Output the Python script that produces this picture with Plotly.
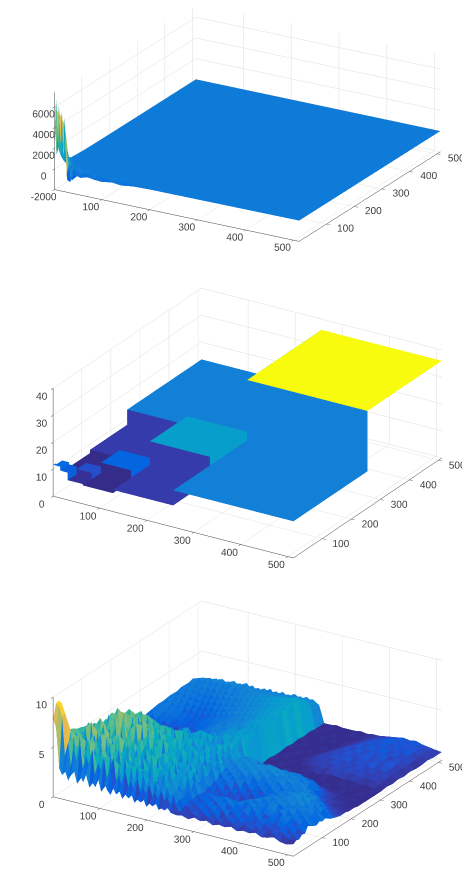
import plotly.graph_objects as go

# --- shared axis ticks
tick_vals = [100, 200, 300, 400, 500]
x_range = [1, 512]

# --- panel 1 values (x nodes, y nodes, heights)
p1_x = [1, 4, 7, 10, 13, 16, 19, 22, 26, 30, 36, 44, 55, 70, 85, 100, 120, 140, 165, 200, 512]
p1_y = [1, 4, 8, 12, 16, 20, 25, 30, 40, 50, 60, 80, 110, 160, 300, 512]
p1_z = [
 [2500, 6900, 3800, 6300, 2600, 5700, 1500, 5200, -300, 600, -500, -200, -350, -150, -250, -300, -150, -250, -100, -50, 0],
 [3400, 5600, 2200, 5300, 1300, 4800, 2400, 3800, -900, 350, -800, 250, -100, 200, -200, 100, -100, 50, -60, 0, 0],
 [1200, 4500, 5400, 1800, 4900, 1100, 4200, 900, 500, -1100, 300, -400, 250, -150, 120, -100, 60, -40, 30, 0, 0],
 [4800, 2100, 3200, 4100, 900, 3500, 500, 1800, -700, 400, -300, 200, -150, 100, -80, 60, -30, 20, 0, 0, 0],
 [1600, 3600, 1100, 2900, 2300, 700, 1600, -400, 300, -200, 350, -100, 80, -60, 40, 0, 0, 0, 0, 0, 0],
 [2700, 900, 2600, 600, 1400, 1100, -300, 500, -200, 250, -100, 120, -50, 30, 0, 0, 0, 0, 0, 0, 0],
 [800, 1900, 400, 1300, 300, 600, 200, -200, 300, -80, 100, -50, 30, 0, 0, 0, 0, 0, 0, 0, 0],
 [1200, 300, 800, 100, 500, -200, 250, 100, -60, 90, -30, 20, 0, 0, 0, 0, 0, 0, 0, 0, 0],
 [300, 600, -100, 300, 80, 150, -60, 60, 30, -20, 10, 0, 0, 0, 0, 0, 0, 0, 0, 0, 0],
 [350, -80, 200, 40, 100, -30, 40, -10, 10, 0, 0, 0, 0, 0, 0, 0, 0, 0, 0, 0, 0],
 [120, 100, -40, 60, -10, 20, 0, 0, 0, 0, 0, 0, 0, 0, 0, 0, 0, 0, 0, 0, 0],
 [80, -20, 40, 0, 10, 0, 0, 0, 0, 0, 0, 0, 0, 0, 0, 0, 0, 0, 0, 0, 0],
 [30, 10, 0, 0, 0, 0, 0, 0, 0, 0, 0, 0, 0, 0, 0, 0, 0, 0, 0, 0, 0],
 [10, 0, 0, 0, 0, 0, 0, 0, 0, 0, 0, 0, 0, 0, 0, 0, 0, 0, 0, 0, 0],
 [0, 0, 0, 0, 0, 0, 0, 0, 0, 0, 0, 0, 0, 0, 0, 0, 0, 0, 0, 0, 0],
 [0, 0, 0, 0, 0, 0, 0, 0, 0, 0, 0, 0, 0, 0, 0, 0, 0, 0, 0, 0, 0],
]

# --- panel 2 values: blocks painted in order
block_x0 = [1, 256, 1, 128, 64, 64, 1, 1, 32, 32, 16, 1, 1]
block_x1 = [512, 512, 256, 256, 128, 128, 64, 64, 64, 64, 32, 16, 16]
block_y0 = [1, 256, 1, 128, 64, 1, 64, 1, 1, 32, 1, 1, 1]
block_y1 = [512, 512, 256, 256, 128, 64, 128, 64, 32, 64, 32, 32, 8]
block_z = [13.6, 36.0, 8.0, 16.8, 10.7, 6.8, 6.8, 7.0, 7.3, 9.2, 10.2, 11.0, 11.6]

# --- panel 3 values, in tenths
p3_x = [1, 7, 14, 20, 27, 33, 39, 46, 52, 59, 65, 71, 78, 84, 91, 97, 103, 110, 116, 123,
        129, 135, 142, 148, 155, 161, 167, 174, 180, 187, 193, 199, 206, 212, 219, 225, 231, 238, 244, 251,
        262, 275, 288, 301, 314, 327, 340, 353, 366, 379, 392, 405, 418, 431, 444, 457, 470, 483, 496, 512]
p3_y = [1, 11, 21, 31, 41, 51, 61, 71, 81, 91, 101, 111, 121, 131, 141, 151, 161, 171, 181, 191, 201, 211, 221, 231, 241, 251,
        262, 282, 302, 322, 342, 362, 382, 402, 422, 442, 462, 482, 512]
p3_z = [
 [78,70,30,24,28,20,26,30,19,27,22,30,18,24,20,28,17,26,20,16,23,18,22,15,20,17,22,14,18,16,20,13,17,15,19,13,15,14,17,13, 12,13,11,14,12,14,11,13,12,14,11,13,12,14,11,12,14,11,10,12],
 [92,90,80,42,56,30,50,36,60,27,47,38,55,25,43,34,50,24,40,52,29,36,22,42,26,33,21,38,24,30,19,34,22,28,18,31,21,26,17,23, 14,12,16,13,18,14,15,12,18,15,13,17,14,15,12,16,14,17,13,14],
 [93,91,82,48,37,60,29,55,41,31,62,34,46,27,52,39,25,49,35,28,43,23,37,30,45,24,34,20,40,27,31,22,36,25,29,19,32,23,27,18, 13,15,14,18,15,20,13,16,15,19,15,14,17,13,15,15,18,14,16,13],
 [64,62,38,63,31,50,60,34,45,56,30,52,38,58,28,43,54,33,26,46,37,50,28,35,22,44,30,38,23,35,42,25,30,21,39,27,32,20,29,21, 16,14,19,15,21,16,22,14,20,16,18,15,21,17,14,20,16,19,14,16],
 [60,58,52,32,56,42,27,54,36,60,40,30,50,35,44,25,48,38,54,28,35,42,25,47,36,23,40,29,36,46,24,33,27,41,22,31,36,24,27,20, 15,18,16,21,14,23,17,20,16,24,18,22,15,20,17,23,19,16,20,15],
 [58,56,36,58,40,29,60,44,27,52,34,62,31,46,55,36,28,50,41,26,52,32,45,26,39,48,22,36,28,43,34,21,38,29,25,34,23,31,25,21, 18,15,20,16,23,19,25,20,17,22,26,20,23,21,18,25,20,24,19,21],
 [56,58,50,30,54,62,33,41,57,28,48,37,58,27,42,51,33,45,25,55,35,29,47,37,25,43,32,50,25,35,39,28,33,44,23,36,29,38,24,27, 16,20,17,23,20,27,21,24,21,28,23,20,26,22,27,21,24,20,26,19],
 [54,56,31,56,36,50,66,29,46,36,59,41,28,54,32,61,38,27,48,42,29,51,33,24,44,34,27,41,47,25,36,30,42,26,34,38,25,31,35,23, 19,16,22,18,24,20,22,17,26,21,25,22,28,20,24,28,22,26,23,17],
 [53,52,45,34,58,28,43,56,31,64,35,48,30,57,38,27,52,34,44,56,25,40,30,49,28,37,45,24,36,30,42,25,33,43,27,35,28,41,23,30, 15,21,16,20,17,22,16,22,19,27,22,26,23,29,25,22,28,24,21,16],
 [52,54,30,60,38,53,34,62,41,29,54,36,63,28,45,35,55,39,27,47,36,30,52,33,42,26,39,30,48,24,37,43,27,34,29,40,25,33,36,27, 18,14,19,15,18,14,18,16,23,19,28,24,28,25,30,26,24,28,22,18],
 [51,49,47,29,54,35,65,31,50,57,33,46,30,60,37,52,29,42,35,54,27,44,34,25,49,31,41,29,35,43,27,34,39,25,37,28,42,27,32,25, 16,17,14,16,13,15,13,18,16,24,22,29,25,30,27,31,25,23,27,16],
 [49,52,33,56,30,62,37,55,28,48,62,32,51,41,27,58,36,45,31,50,38,28,44,33,48,24,36,41,28,46,32,25,38,30,26,40,28,35,29,32, 20,15,18,14,16,13,15,13,19,16,26,23,28,24,33,27,29,22,20,17],
 [48,50,42,27,52,44,30,60,40,66,31,54,36,28,56,39,63,30,48,34,55,30,41,50,27,37,31,45,25,39,34,43,27,33,37,24,35,29,40,27, 16,21,15,19,15,17,13,18,15,23,19,27,24,30,27,33,24,27,19,15],
 [47,45,29,54,37,28,63,34,58,30,50,66,33,44,28,54,35,60,31,41,27,47,36,29,52,33,26,42,35,29,47,30,39,27,41,31,28,37,33,25, 22,18,24,16,20,15,19,15,21,18,26,21,29,23,32,26,28,20,22,13],
 [46,48,37,50,26,58,39,30,66,35,55,41,28,59,45,33,52,29,56,37,43,31,49,28,39,44,29,36,46,26,34,40,29,36,31,42,26,32,28,34, 18,25,20,26,17,22,18,23,19,26,20,27,22,29,25,30,22,23,15,12],
 [45,47,28,52,32,60,48,36,54,63,30,46,58,32,41,62,28,50,37,45,30,53,33,41,28,48,37,25,43,31,38,27,44,30,36,26,39,28,36,27, 26,21,27,23,25,20,24,21,26,22,28,24,28,26,29,23,26,17,14,11],
 [43,45,41,28,50,32,57,27,45,60,35,49,30,62,34,44,54,37,27,52,39,30,46,35,26,41,49,31,37,28,44,33,26,39,31,42,28,34,26,35, 23,28,24,30,26,29,23,27,24,30,25,28,26,29,23,25,19,15,12,10],
 [42,40,29,49,34,61,30,54,39,32,56,43,51,28,47,36,59,31,42,29,49,34,44,26,37,31,42,29,47,35,27,39,31,28,41,29,36,30,42,28, 29,25,31,27,32,26,30,25,28,26,31,28,30,24,26,20,15,12,11,10],
 [41,43,35,26,46,37,53,33,60,30,49,38,58,35,30,53,40,28,51,33,44,27,39,50,31,36,27,44,31,29,39,34,29,43,27,36,31,40,28,30, 26,32,28,33,29,31,27,32,28,30,25,29,24,28,22,17,13,11,10,10],
 [40,42,28,46,30,50,31,58,37,54,29,46,33,56,39,47,29,44,36,50,30,40,32,48,27,42,34,30,44,37,27,36,42,29,38,28,44,31,35,29, 32,28,34,29,32,29,33,28,30,25,28,23,26,20,16,13,10,10,9,9],
 [39,37,40,28,44,33,51,30,47,36,56,31,45,34,50,30,41,37,47,32,43,29,36,31,46,27,40,33,29,42,34,30,37,28,40,31,27,42,33,37, 28,33,27,31,26,32,29,31,25,29,24,28,21,18,14,12,10,9,9,9],
 [37,39,30,42,27,47,35,43,31,51,33,43,30,48,35,44,31,39,29,43,33,38,27,42,32,29,40,35,31,27,41,33,30,39,34,28,38,32,43,35, 30,26,32,25,29,25,31,27,28,25,26,21,24,17,13,11,10,9,8,9],
 [35,37,32,27,40,30,44,29,41,33,45,29,39,35,42,28,37,31,41,29,37,32,42,28,35,38,28,33,41,30,36,28,40,32,27,38,33,29,40,41, 26,31,25,30,24,29,25,26,24,27,22,25,20,15,12,10,9,9,8,8],
 [33,35,28,37,26,40,31,38,27,42,30,36,29,39,32,35,27,39,30,33,28,38,31,36,27,40,31,28,35,42,29,37,30,27,41,34,29,40,36,31, 24,29,24,26,22,25,21,25,22,24,20,21,16,13,11,9,9,8,8,8],
 [31,30,32,25,35,27,38,29,34,27,39,29,34,30,36,26,37,29,32,27,39,30,35,27,37,30,41,29,34,28,38,32,28,39,31,35,27,41,33,43, 21,25,20,23,19,22,18,21,19,22,18,19,14,11,10,9,8,9,8,8],
 [29,27,25,30,22,32,24,33,26,29,24,33,26,31,28,33,26,29,35,27,32,38,28,35,30,39,32,37,29,40,33,36,31,41,35,30,40,34,39,40, 13,16,12,15,12,14,11,13,11,14,11,12,10,9,9,8,8,8,8,8],
 [21,24,19,23,17,21,15,19,14,18,14,17,13,16,15,19,15,20,18,23,20,26,22,28,25,30,26,32,28,33,30,28,35,31,37,33,39,35,40,37, 9,8,9,8,8,9,8,8,9,8,8,9,8,8,9,8,8,9,8,8],
 [22,20,24,18,21,16,19,15,18,14,16,13,15,12,16,14,18,15,21,18,23,21,25,24,28,26,31,28,33,30,35,29,36,32,38,34,36,32,39,36, 8,9,8,8,9,8,8,9,8,8,9,8,8,9,8,9,8,8,9,8],
 [21,23,19,22,18,20,15,18,14,17,13,16,12,15,14,17,15,19,17,22,19,25,22,27,24,29,26,28,30,32,34,28,33,31,37,32,38,34,36,39, 8,8,9,8,8,8,9,10,11,10,12,13,12,11,12,11,10,11,9,8],
 [23,21,25,20,22,18,21,16,18,15,18,14,17,13,17,15,20,17,19,23,21,26,23,29,25,28,30,26,32,29,31,33,30,36,32,38,34,39,36,41, 9,8,8,9,8,10,11,12,13,12,14,13,14,13,14,12,13,12,10,9],
 [24,22,26,21,24,19,23,18,21,16,19,15,18,14,19,16,21,18,22,20,24,22,26,23,28,26,29,30,27,32,30,34,31,37,33,39,35,40,37,41, 8,9,8,8,9,10,12,13,12,15,13,14,13,15,13,14,12,13,10,8],
 [25,23,27,22,25,21,24,18,22,17,21,17,20,16,20,17,22,19,24,21,25,22,27,25,29,27,30,28,32,30,33,31,36,33,38,35,40,37,42,39, 8,8,9,8,8,11,13,12,15,14,16,13,15,14,16,13,15,12,11,9],
 [25,27,23,26,22,25,20,24,19,23,18,21,17,22,19,23,20,25,22,26,23,28,25,30,26,31,28,33,30,35,31,36,33,39,35,40,37,41,39,44, 9,8,8,9,8,9,11,14,13,16,14,15,16,14,15,14,16,12,10,8],
 [26,24,27,23,26,21,25,20,24,19,23,19,24,20,25,21,25,23,27,24,28,26,30,27,31,29,32,31,33,32,35,33,37,35,39,36,40,38,43,40, 8,9,8,8,9,8,10,12,15,13,17,14,16,15,17,13,15,13,11,9],
 [25,28,24,27,24,26,23,25,21,24,20,25,22,26,23,27,24,28,25,29,26,30,28,32,29,33,30,34,32,36,33,38,35,39,36,41,38,42,40,44, 9,8,8,8,8,8,9,11,13,16,14,17,15,18,14,16,14,14,10,8],
 [27,25,28,24,28,25,27,23,26,22,27,23,28,24,29,25,29,26,30,28,31,29,33,30,34,31,35,33,36,34,38,35,39,37,40,38,42,39,41,40, 8,8,9,8,9,8,9,10,12,14,16,15,17,15,16,15,17,13,11,8],
 [26,29,25,28,26,29,25,28,25,29,25,28,25,30,26,29,28,30,27,31,29,32,30,33,31,34,32,35,33,35,34,37,35,38,36,39,36,40,37,39, 9,8,8,9,8,8,8,9,11,13,15,16,18,16,17,16,16,14,12,9],
 [28,26,30,27,30,28,31,29,30,28,31,30,32,30,31,29,30,30,31,28,30,29,30,28,31,30,30,29,32,30,31,30,33,31,32,31,34,32,33,31, 8,9,8,8,8,9,8,9,10,12,13,15,16,17,15,17,15,14,12,8],
 [20,24,22,25,23,26,24,27,25,26,24,28,25,27,25,29,26,28,25,27,25,28,26,29,25,28,26,29,27,28,26,30,28,29,27,30,28,29,27,25, 8,8,9,8,8,8,9,8,9,9,10,11,12,13,12,13,11,10,9,8],
]

parula = [
 [0.000, "rgb(53,42,135)"], [0.048, "rgb(53,61,173)"], [0.095, "rgb(32,83,212)"], [0.127, "rgb(3,99,225)"],
 [0.190, "rgb(13,117,220)"], [0.254, "rgb(20,133,212)"], [0.333, "rgb(7,156,207)"], [0.413, "rgb(10,172,190)"],
 [0.492, "rgb(46,183,164)"], [0.571, "rgb(101,190,134)"], [0.651, "rgb(156,191,111)"], [0.730, "rgb(200,188,93)"],
 [0.810, "rgb(241,185,74)"], [0.857, "rgb(255,195,55)"], [0.921, "rgb(247,216,38)"], [1.000, "rgb(249,251,14)"],
]


def flat_mesh(xs, ys, zrows, cmin, cmax, scene):
    """A grid surface as a triangle mesh; each cell is coloured by its lower-index corner."""
    nx, ny = len(xs), len(ys)
    vx, vy, vz, ii, jj, kk, col = [], [], [], [], [], [], []
    for r in range(ny):
        for c in range(nx):
            vx.append(xs[c]); vy.append(ys[r]); vz.append(zrows[r][c])
    for r in range(ny - 1):
        for c in range(nx - 1):
            a = r * nx + c
            b, d, e = a + 1, a + nx, a + nx + 1
            ii += [a, a]; jj += [b, e]; kk += [e, d]
            col += [zrows[r][c], zrows[r][c]]
    return go.Mesh3d(x=vx, y=vy, z=vz, i=ii, j=jj, k=kk, intensity=col, intensitymode="cell",
                     colorscale=parula, cmin=cmin, cmax=cmax, showscale=False, flatshading=True,
                     lighting=dict(ambient=1, diffuse=0, specular=0, roughness=1, fresnel=0),
                     hoverinfo="skip", scene=scene)


def block_grid(x0s, x1s, y0s, y1s, zs):
    """Step grid from the blocks: every inner edge appears twice so it forms a wall."""
    xe = sorted(set(x0s) | set(x1s))
    ye = sorted(set(y0s) | set(y1s))

    def val(xa, ya):
        v = zs[0]
        for a, b, c, d, z in zip(x0s, x1s, y0s, y1s, zs):
            if a <= xa < b and c <= ya < d:
                v = z
        return v

    def nodes(edges):
        out = [(edges[0], edges[0])]
        for i in range(1, len(edges) - 1):
            out += [(edges[i], edges[i - 1]), (edges[i], edges[i])]
        out.append((edges[-1], edges[-2]))
        return out

    xn, yn = nodes(xe), nodes(ye)
    z = [[val(xc, yc) for _, xc in xn] for _, yc in yn]
    return [n[0] for n in xn], [n[0] for n in yn], z


fig = go.Figure()
fig.add_trace(flat_mesh(p1_x, p1_y, p1_z, -2000, 7400, "scene"))
gx, gy, gz = block_grid(block_x0, block_x1, block_y0, block_y1, block_z)
fig.add_trace(flat_mesh(gx, gy, gz, 6.7, 36, "scene2"))
fig.add_trace(flat_mesh(p3_x, p3_y, [[v / 10 for v in r] for r in p3_z], 0.7, 10, "scene3"))

font = dict(family="Liberation Sans", size=11, color="#404040")


def axis(vals, rng):
    return dict(range=rng, tickvals=vals, ticktext=[str(v) for v in vals], title=dict(text=""), tickangle=0,
                showgrid=True, gridcolor="#dedede", gridwidth=1, zeroline=False, showbackground=False,
                showline=True, linecolor="#404040", linewidth=1, ticks="outside", ticklen=4,
                tickcolor="#404040", tickfont=font, showspikes=False)


def scene(top, bottom, shift_up, zvals, zrng, zasp, ex, ey, ez):
    h = bottom - top
    d = 6.0
    k = 565.0 / h
    cz = -shift_up / (0.476 * h)
    return dict(
        domain=dict(x=[0.02, 1.0], y=[1 - bottom / H, 1 - top / H]),
        xaxis=axis(tick_vals, x_range), yaxis=axis(tick_vals, x_range), zaxis=axis(zvals, zrng),
        aspectmode="manual", aspectratio=dict(x=k, y=k, z=zasp * k),
        camera=dict(eye=dict(x=ex * d, y=ey * d, z=cz + ez * d), up=dict(x=0, y=0, z=1),
                    center=dict(x=0, y=0, z=cz), projection=dict(type="orthographic")),
    )


H = 869
fig.update_layout(
    width=470, height=869, margin=dict(l=0, r=0, t=0, b=0), paper_bgcolor="white", showlegend=False,
    scene=scene(0, 275, 24, [-2000, 0, 2000, 4000, 6000], [-2000, 7400], 0.37, 0.465, -0.805, 0.366),
    scene2=scene(275, 580, 13, [0, 10, 20, 30, 40], [0, 40], 0.42, 0.478, -0.774, 0.417),
    scene3=scene(580, 869, 4, [0, 5, 10], [0, 10], 0.385, 0.482, -0.78, 0.40),
)
fig.write_html("out.html")
